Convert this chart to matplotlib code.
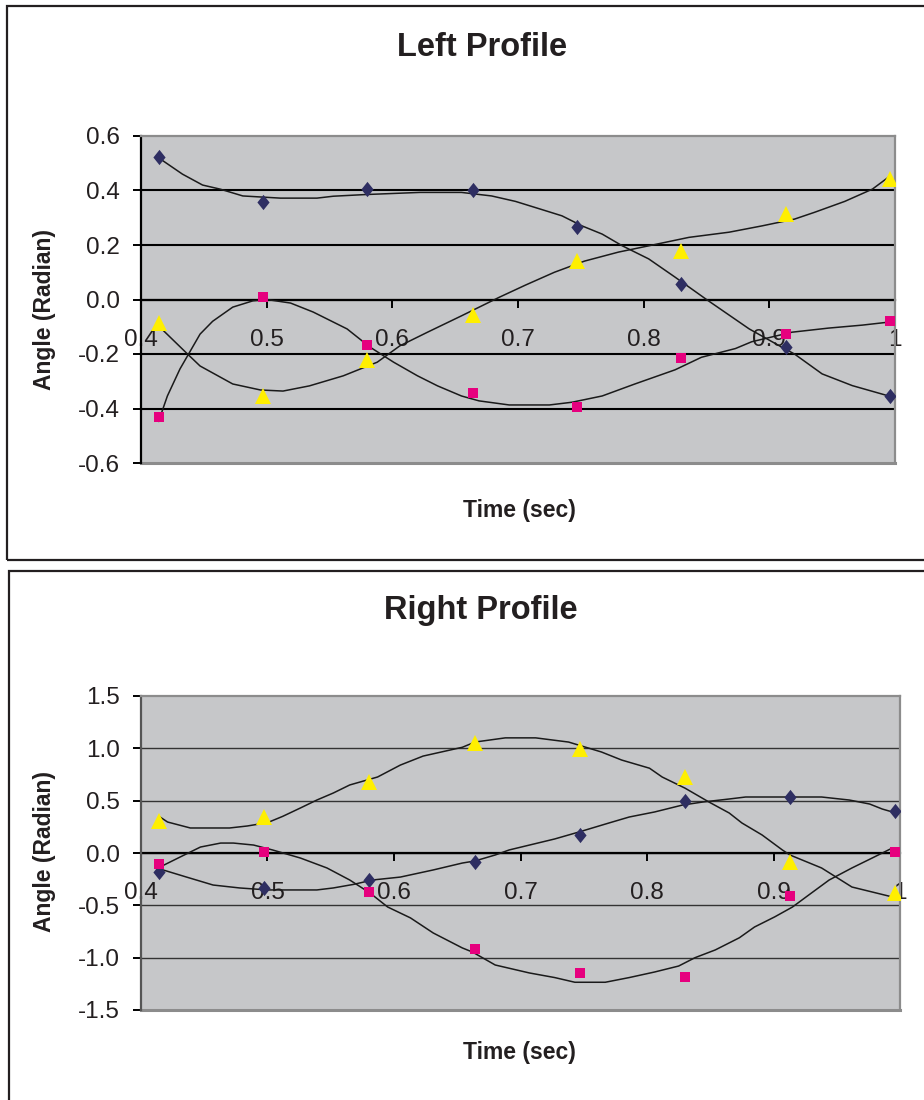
import matplotlib
matplotlib.use("Agg")
import matplotlib.pyplot as plt
from matplotlib.patches import Rectangle

plt.rcParams['font.family'] = ['Liberation Sans', 'DejaVu Sans']
plt.rcParams['axes.unicode_minus'] = False

# ---- measured samples ---------------------------------------------------
time_s = [0.414, 0.497, 0.580, 0.664, 0.747, 0.830, 0.913, 0.996]

left_diamond = [0.523, 0.358, 0.405, 0.402, 0.266, 0.057, -0.174, -0.354]
left_square = [-0.431, 0.009, -0.167, -0.343, -0.394, -0.215, -0.127, -0.079]
left_triangle = [-0.088, -0.354, -0.222, -0.057, 0.141, 0.178, 0.314, 0.442]

right_diamond = [-0.18, -0.335, -0.26, -0.085, 0.175, 0.50, 0.535, 0.40]
right_square = [-0.105, 0.01, -0.37, -0.92, -1.15, -1.18, -0.41, 0.01]
right_triangle = [0.31, 0.345, 0.68, 1.05, 0.99, 0.73, -0.09, -0.38]

# ---- reference trajectories (time, angle) ---------------------------------
left_diamond_path_t = [0.414, 0.433, 0.449, 0.463, 0.481, 0.511, 0.540, 0.553, 0.578,
                       0.622, 0.655, 0.679, 0.698, 0.719, 0.735, 0.751, 0.767, 0.783,
                       0.804, 0.825, 0.850, 0.884, 0.908, 0.920, 0.942, 0.966, 0.995]
left_diamond_path = [0.52, 0.46, 0.42, 0.405, 0.38, 0.372, 0.372, 0.379, 0.385,
                     0.393, 0.393, 0.38, 0.36, 0.33, 0.307, 0.27, 0.24, 0.197,
                     0.149, 0.082, 0.0, -0.108, -0.17, -0.2, -0.273, -0.316, -0.354]

left_square_path_t = [0.414, 0.421, 0.431, 0.447, 0.457, 0.473, 0.489, 0.500, 0.519,
                      0.537, 0.564, 0.582, 0.601, 0.620, 0.636, 0.655, 0.669, 0.693,
                      0.725, 0.743, 0.767, 0.793, 0.825, 0.846, 0.873, 0.886, 0.918,
                      0.947, 0.974, 0.995]
left_square_path = [-0.447, -0.354, -0.255, -0.127, -0.08, -0.028, -0.005, 0.0, -0.013,
                    -0.046, -0.108, -0.174, -0.23, -0.28, -0.317, -0.354, -0.372, -0.387,
                    -0.387, -0.377, -0.354, -0.31, -0.258, -0.212, -0.18, -0.155, -0.12,
                    -0.105, -0.094, -0.083]

left_triangle_path_t = [0.414, 0.437, 0.447, 0.473, 0.495, 0.513, 0.534, 0.561, 0.588,
                        0.606, 0.628, 0.655, 0.685, 0.706, 0.729, 0.753, 0.780, 0.804,
                        0.836, 0.868, 0.894, 0.920, 0.936, 0.960, 0.982, 0.996]
left_triangle_path = [-0.097, -0.2, -0.244, -0.31, -0.332, -0.336, -0.317, -0.28, -0.23,
                      -0.17, -0.12, -0.06, 0.008, 0.053, 0.1, 0.141, 0.174, 0.197,
                      0.228, 0.247, 0.27, 0.295, 0.32, 0.36, 0.405, 0.453]

right_diamond_path_t = [0.415, 0.436, 0.457, 0.478, 0.500, 0.539, 0.552, 0.568, 0.583,
                        0.605, 0.631, 0.654, 0.664, 0.680, 0.691, 0.727, 0.746, 0.770,
                        0.786, 0.806, 0.828, 0.844, 0.865, 0.878, 0.938, 0.960, 0.976,
                        0.986, 0.994]
right_diamond_path = [-0.153, -0.23, -0.306, -0.334, -0.353, -0.353, -0.334, -0.30, -0.258,
                      -0.23, -0.162, -0.096, -0.076, -0.019, 0.029, 0.134, 0.2, 0.287,
                      0.344, 0.392, 0.458, 0.487, 0.516, 0.535, 0.535, 0.506, 0.468,
                      0.42, 0.392]

right_square_path_t = [0.415, 0.431, 0.447, 0.463, 0.473, 0.489, 0.504, 0.526, 0.547,
                       0.565, 0.581, 0.595, 0.613, 0.631, 0.654, 0.662, 0.680, 0.707,
                       0.727, 0.743, 0.767, 0.786, 0.806, 0.825, 0.838, 0.854, 0.873,
                       0.885, 0.901, 0.915, 0.928, 0.944, 0.962, 0.978, 0.994]
right_square_path = [-0.134, -0.038, 0.057, 0.095, 0.095, 0.076, 0.029, -0.048, -0.143,
                     -0.258, -0.382, -0.516, -0.62, -0.764, -0.907, -0.946, -1.07, -1.146,
                     -1.19, -1.235, -1.235, -1.19, -1.137, -1.08, -1.0, -0.926, -0.81,
                     -0.707, -0.61, -0.516, -0.4, -0.258, -0.143, -0.048, 0.048]

right_triangle_path_t = [0.415, 0.421, 0.439, 0.470, 0.484, 0.500, 0.512, 0.526, 0.539,
                         0.552, 0.565, 0.587, 0.605, 0.623, 0.654, 0.664, 0.688, 0.712,
                         0.738, 0.764, 0.780, 0.802, 0.812, 0.830, 0.849, 0.865, 0.875,
                         0.891, 0.907, 0.913, 0.938, 0.962, 0.994]
right_triangle_path = [0.344, 0.296, 0.239, 0.239, 0.258, 0.29, 0.35, 0.43, 0.506,
                       0.573, 0.65, 0.726, 0.84, 0.926, 1.01, 1.06, 1.1, 1.1,
                       1.06, 0.965, 0.888, 0.81, 0.726, 0.62, 0.487, 0.382, 0.287,
                       0.172, 0.029, -0.019, -0.143, -0.325, -0.42]

x_ticks = [0.4, 0.5, 0.6, 0.7, 0.8, 0.9, 1.0]
x_tick_labels = ["0.4", "0.5", "0.6", "0.7", "0.8", "0.9", "1"]
left_y_ticks = [-0.6, -0.4, -0.2, 0.0, 0.2, 0.4, 0.6]
right_y_ticks = [-1.5, -1.0, -0.5, 0.0, 0.5, 1.0, 1.5]

# ---- styling ----------------------------------------------------------
W, H = 924, 1100
TEXT = '#231f20'
PLOT_BG = '#c6c7c9'
C_DIAMOND = '#2e2e62'
C_SQUARE = '#e6007e'
C_TRIANGLE = '#ffef00'
DIAMOND = [(0, 1), (0.8, 0), (0, -1), (-0.8, 0), (0, 1)]

fig = plt.figure(figsize=(W / 100, H / 100), dpi=100)
fig.patch.set_facecolor('white')


def px_axes(left, top, right, bottom):
    return fig.add_axes([left / W, 1 - bottom / H, (right - left) / W, (bottom - top) / H])


def panel(ax, paths, series, yticks, grid_lw, grid_color, spine_left_color):
    ax.set_facecolor(PLOT_BG)
    ax.set_xlim(0.4, 1.0)
    ax.set_ylim(yticks[0], yticks[-1])

    for y in yticks[1:-1]:
        ax.axhline(y, color=grid_color, lw=grid_lw, zorder=1)

    for t, a in paths:
        ax.plot(t, a, color='#1a1a1a', lw=1.1, zorder=3)

    for y, marker, color, ms in series:
        ax.plot(time_s, y, linestyle='none', marker=marker, color=color,
                markersize=ms, markeredgewidth=0, zorder=4)

    ax.spines['bottom'].set_position(('data', 0))
    ax.spines['bottom'].set_color('black')
    ax.spines['bottom'].set_linewidth(1.6)
    ax.spines['bottom'].set_zorder(2)
    ax.spines['left'].set_color(spine_left_color)
    ax.spines['left'].set_linewidth(1.6)
    for s in ('top', 'right'):
        ax.spines[s].set_color('#8c8c8c')
        ax.spines[s].set_linewidth(1.6)
    ax.axhline(yticks[0], color='#8c8c8c', lw=2.2, zorder=2, clip_on=False)

    ax.set_xticks(x_ticks)
    ax.set_xticklabels(x_tick_labels)
    ax.set_yticks(yticks)
    ax.set_yticklabels(["%.1f" % v for v in yticks])
    ax.tick_params(axis='x', direction='out', length=6, width=1.4, color='black',
                   labelsize=17.5, labelcolor=TEXT, pad=15)
    ax.tick_params(axis='y', direction='out', length=6, width=1.4, color='black',
                   labelsize=17.5, labelcolor=TEXT, pad=9)


# ---- outer chart frames ------------------------------------------------
fig.patches.append(Rectangle((7 / W, 1 - 560 / H), 940 / W, 554 / H,
                             transform=fig.transFigure, fill=False,
                             edgecolor=TEXT, lw=1.6))
fig.patches.append(Rectangle((9 / W, 1 - 1130 / H), 940 / W, 559 / H,
                             transform=fig.transFigure, fill=False,
                             edgecolor=TEXT, lw=1.6))

# ---- Left profile -------------------------------------------------------
ax1 = px_axes(141, 136, 895, 463)
panel(ax1,
      [(left_diamond_path_t, left_diamond_path),
       (left_square_path_t, left_square_path),
       (left_triangle_path_t, left_triangle_path)],
      [(left_diamond, DIAMOND, C_DIAMOND, 11),
       (left_square, 's', C_SQUARE, 7),
       (left_triangle, '^', C_TRIANGLE, 11)],
      left_y_ticks, 1.5, 'black', 'black')
fig.text(482 / W, 1 - 48 / H, "Left Profile", ha='center', va='center',
         fontsize=23.5, fontweight='bold', color=TEXT)
fig.text(519 / W, 1 - 511 / H, "Time (sec)", ha='center', va='center',
         fontsize=16.5, fontweight='bold', color=TEXT)
fig.text(45 / W, 1 - 310 / H, "Angle (Radian)", ha='center', va='center',
         rotation=90, fontsize=16.5, fontweight='bold', color=TEXT)

# ---- Right profile ------------------------------------------------------
ax2 = px_axes(141, 696, 900, 1010)
panel(ax2,
      [(right_diamond_path_t, right_diamond_path),
       (right_square_path_t, right_square_path),
       (right_triangle_path_t, right_triangle_path)],
      [(right_diamond, DIAMOND, C_DIAMOND, 11),
       (right_square, 's', C_SQUARE, 7),
       (right_triangle, '^', C_TRIANGLE, 11)],
      right_y_ticks, 1.0, '#333333', '#555555')
fig.text(481 / W, 1 - 610 / H, "Right Profile", ha='center', va='center',
         fontsize=23.5, fontweight='bold', color=TEXT)
fig.text(519 / W, 1 - 1052 / H, "Time (sec)", ha='center', va='center',
         fontsize=16.5, fontweight='bold', color=TEXT)
fig.text(45 / W, 1 - 852 / H, "Angle (Radian)", ha='center', va='center',
         rotation=90, fontsize=16.5, fontweight='bold', color=TEXT)

fig.savefig("out.png", dpi=100)
